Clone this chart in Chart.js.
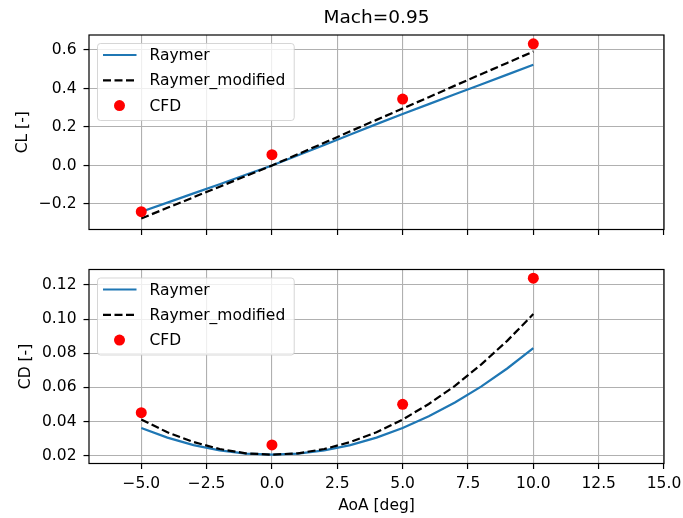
<!DOCTYPE html>
<html>
<head>
<meta charset="utf-8">
<script src="https://cdn.jsdelivr.net/npm/chart.js@4/dist/chart.umd.min.js"></script>
<style>
  html, body { margin: 0; padding: 0; background: #fff; }
  #wrap { position: relative; width: 683px; height: 518px; }
  canvas { position: absolute; left: 0; }
</style>
</head>
<body>
<div id="wrap">
  <canvas id="clChart" width="683" height="250" style="top:0"></canvas>
  <canvas id="cdChart" width="683" height="268" style="top:250px"></canvas>
</div>
<script>
// Angle of attack sweep for the model curves
const aoa = [-5, -4, -3, -2, -1, 0, 1, 2, 3, 4, 5, 6, 7, 8, 9, 10];

// Lift coefficient
const clRaymer    = [-0.240, -0.193, -0.145, -0.097, -0.048, 0.000, 0.053, 0.107, 0.161, 0.215, 0.268, 0.319, 0.370, 0.421, 0.472, 0.523];
const clRaymerMod = [-0.275, -0.220, -0.165, -0.110, -0.055, 0.000, 0.059, 0.118, 0.178, 0.237, 0.296, 0.355, 0.415, 0.474, 0.533, 0.592];

// Drag coefficient
const cdRaymer    = [0.0362, 0.0306, 0.0262, 0.0231, 0.0212, 0.0206, 0.0212, 0.0231, 0.0262, 0.0306, 0.0362, 0.0431, 0.0512, 0.0605, 0.0711, 0.0830];
const cdRaymerMod = [0.0412, 0.0337, 0.0280, 0.0239, 0.0214, 0.0206, 0.0214, 0.0239, 0.0280, 0.0337, 0.0412, 0.0503, 0.0609, 0.0734, 0.0873, 0.1030];

// CFD results
const aoaCfd = [-5, 0, 5, 10];
const clCfd  = [-0.240, 0.056, 0.345, 0.632];
const cdCfd  = [0.0452, 0.0263, 0.0501, 0.1240];

// Tick positions
const aoaTicks = [-5, -2.5, 0, 2.5, 5, 7.5, 10, 12.5, 15];
const clTicks  = [-0.2, 0.0, 0.2, 0.4, 0.6];
const cdTicks  = [0.02, 0.04, 0.06, 0.08, 0.10, 0.12];

const FONT = '"DejaVu Sans", "Liberation Sans", sans-serif';
const FS = 15.5;
Chart.defaults.font.family = FONT;
Chart.defaults.font.size = FS;
Chart.defaults.color = '#000';

const pairs = (xs, ys) => xs.map((x, i) => ({ x, y: ys[i] }));
const minus = s => s.replace('-', '\u2212');

// Legend box drawn inside the upper-left corner of the plot area
const insetLegend = {
  id: 'insetLegend',
  afterDatasetsDraw(chart) {
    const { ctx, chartArea } = chart;
    const items = chart.data.datasets;
    ctx.save();
    ctx.font = FS + 'px ' + FONT;
    const maxW = Math.max(...items.map(d => ctx.measureText(d.label).width));
    const x0 = chartArea.left + 8.5, y0 = chartArea.top + 8.5;
    const w = 52 + maxW + 9, h = 77, r = 3;
    ctx.beginPath();
    ctx.moveTo(x0 + r, y0);
    ctx.lineTo(x0 + w - r, y0);
    ctx.arcTo(x0 + w, y0, x0 + w, y0 + r, r);
    ctx.lineTo(x0 + w, y0 + h - r);
    ctx.arcTo(x0 + w, y0 + h, x0 + w - r, y0 + h, r);
    ctx.lineTo(x0 + r, y0 + h);
    ctx.arcTo(x0, y0 + h, x0, y0 + h - r, r);
    ctx.lineTo(x0, y0 + r);
    ctx.arcTo(x0, y0, x0 + r, y0, r);
    ctx.closePath();
    ctx.fillStyle = 'rgba(255,255,255,0.8)';
    ctx.fill();
    ctx.strokeStyle = 'rgba(204,204,204,0.8)';
    ctx.lineWidth = 1;
    ctx.stroke();
    items.forEach((d, i) => {
      const y = y0 + 11.5 + i * 25.3;
      if (d.showLine) {
        ctx.beginPath();
        ctx.setLineDash(d.borderDash || []);
        ctx.strokeStyle = d.borderColor;
        ctx.lineWidth = d.borderWidth;
        ctx.moveTo(x0 + 5.5, y);
        ctx.lineTo(x0 + 39, y);
        ctx.stroke();
        ctx.setLineDash([]);
      } else {
        ctx.beginPath();
        ctx.fillStyle = d.backgroundColor;
        ctx.arc(x0 + 22, y, d.pointRadius, 0, Math.PI * 2);
        ctx.fill();
      }
      ctx.fillStyle = '#000';
      ctx.textBaseline = 'middle';
      ctx.textAlign = 'left';
      ctx.fillText(d.label, x0 + 52, y + 1);
    });
    ctx.restore();
  }
};

// Full box frame around the plot area
const frame = {
  id: 'frame',
  afterDraw(chart) {
    const { ctx, chartArea: a } = chart;
    ctx.save();
    ctx.strokeStyle = '#000';
    ctx.lineWidth = 1.2;
    ctx.strokeRect(a.left, a.top, a.right - a.left, a.bottom - a.top);
    ctx.restore();
  }
};

const noPad = s => { s.paddingLeft = 0; s.paddingRight = 0; s.paddingTop = 0; s.paddingBottom = 0; };

function makeChart(canvasId, cfg) {
  const datasets = [
    { label: 'Raymer', data: pairs(aoa, cfg.raymer), showLine: true, borderColor: '#1f77b4',
      borderWidth: 2.2, pointRadius: 0, order: 3 },
    { label: 'Raymer_modified', data: pairs(aoa, cfg.raymerMod), showLine: true, borderColor: '#000000',
      borderWidth: 2.2, borderDash: [8, 3.5], pointRadius: 0, order: 2 },
    { label: 'CFD', data: pairs(aoaCfd, cfg.cfd), showLine: false, backgroundColor: '#ff0000',
      borderColor: '#ff0000', borderWidth: 0, pointRadius: 5.5, order: 1 }
  ];
  return new Chart(document.getElementById(canvasId), {
    type: 'scatter',
    data: { datasets },
    plugins: [insetLegend, frame],
    options: {
      responsive: false,
      animation: false,
      devicePixelRatio: 1,
      events: [],
      layout: { padding: { left: 0, right: 19, top: cfg.padTop, bottom: 0 } },
      plugins: {
        legend: { display: false },
        tooltip: { enabled: false },
        title: cfg.title ? {
          display: true, text: cfg.title, fullSize: false,
          font: { size: 18.5, weight: 'normal' }, color: '#000',
          padding: { top: 7.4, bottom: 5.4 }
        } : { display: false }
      },
      scales: {
        x: {
          type: 'linear', min: -7, max: 15,
          afterBuildTicks: s => { s.ticks = aoaTicks.map(v => ({ value: v })); },
          afterFit: s => { s.height = cfg.xHeight; noPad(s); },
          grid: { color: '#b0b0b0', lineWidth: 1.1, tickColor: '#000', tickWidth: 1.2, tickLength: 5.5 },
          border: { display: false },
          ticks: { display: cfg.xLabels, padding: 5.5, maxRotation: 0, autoSkip: false,
                   callback: v => minus(v.toFixed(1)) },
          title: cfg.xLabels ? { display: true, text: 'AoA [deg]', padding: { top: 0, bottom: 2.7 } } : { display: false }
        },
        y: {
          type: 'linear', min: cfg.yMin, max: cfg.yMax,
          afterBuildTicks: s => { s.ticks = cfg.yTicks.map(v => ({ value: v })); },
          afterFit: s => { s.width = 89; noPad(s); },
          grid: { color: '#b0b0b0', lineWidth: 1.1, tickColor: '#000', tickWidth: 1.2, tickLength: 5.5 },
          border: { display: false },
          ticks: { padding: 7, autoSkip: false, callback: v => minus(v.toFixed(cfg.yDigits)) },
          title: { display: true, text: cfg.yTitle, padding: { top: cfg.yTitlePad, bottom: 0 } }
        }
      }
    }
  });
}

makeChart('clChart', {
  raymer: clRaymer, raymerMod: clRaymerMod, cfd: clCfd,
  title: 'Mach=0.95', padTop: 0, xHeight: 20.5, xLabels: false,
  yMin: -0.3325, yMax: 0.678, yTicks: clTicks, yDigits: 1,
  yTitle: 'CL [-]', yTitlePad: 13.7
});

makeChart('cdChart', {
  raymer: cdRaymer, raymerMod: cdRaymerMod, cfd: cdCfd,
  title: null, padTop: 19.5, xHeight: 54.5, xLabels: true,
  yMin: 0.01543, yMax: 0.1291, yTicks: cdTicks, yDigits: 2,
  yTitle: 'CD [-]', yTitlePad: 16.7
});
</script>
</body>
</html>
